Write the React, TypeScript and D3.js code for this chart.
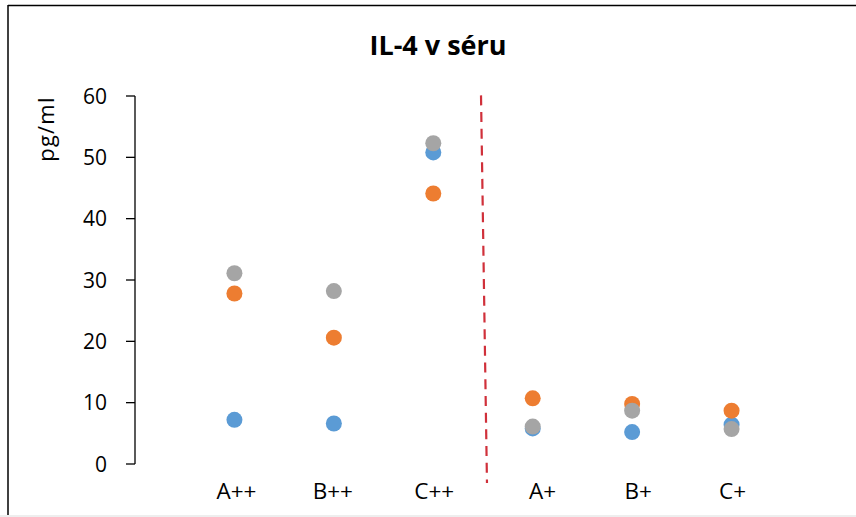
import React from "react";
import * as d3 from "d3";

const categories = ["A++", "B++", "C++", "A+", "B+", "C+"];
const catX = [1, 2, 3, 4, 5, 6];
const labelX = [1.02, 1.99, 3.01, 4.1, 5.06, 6.01];
const seriesBlue = [7.2, 6.6, 50.8, 5.8, 5.2, 6.4];
const seriesOrange = [27.8, 20.6, 44.1, 10.7, 9.8, 8.7];
const seriesGray = [31.1, 28.2, 52.3, 6.1, 8.7, 5.7];
const yTicks = [0, 10, 20, 30, 40, 50, 60];
const dividerX = [3.48, 3.54];
const dividerY = [60.1, -3.1];
const title = "IL-4 v séru";
const yLabel = "pg/ml";

const series = [
  { name: "s1", values: seriesBlue, color: "#5B9BD5" },
  { name: "s2", values: seriesOrange, color: "#ED7D31" },
  { name: "s3", values: seriesGray, color: "#A5A5A5" },
];

const W = 856;
const H = 517;
const font = "'Open Sans', 'Liberation Sans', sans-serif";

export default function App() {
  const x = d3.scaleLinear().domain([0, 7]).range([135, 831]);
  const y = d3.scaleLinear().domain([0, 60]).range([464, 96]);

  return (
    <svg
      width={W}
      height={H}
      style={{ position: "absolute", left: 0, top: 0, background: "#fff" }}
      fontFamily={font}
    >
      <rect x={0} y={0} width={W} height={H} fill="#fff" />
      {/* outer frame */}
      <line x1={8} y1={5.5} x2={W} y2={5.5} stroke="#000" strokeWidth={1.5} />
      <line x1={8} y1={5} x2={8} y2={515} stroke="#000" strokeWidth={1.5} />
      <line x1={0} y1={516} x2={W} y2={516} stroke="#ddd" strokeWidth={1} />

      <text
        x={438}
        y={55}
        textAnchor="middle"
        fontSize={27}
        fontWeight="bold"
        fill="#000"
      >
        {title}
      </text>

      {/* y axis */}
      <line x1={x(0)} y1={y(60)} x2={x(0)} y2={y(0)} stroke="#000" strokeWidth={1.3} />
      {yTicks.map((t) => (
        <g key={t}>
          <line x1={x(0) - 9} x2={x(0)} y1={y(t)} y2={y(t)} stroke="#000" strokeWidth={1.3} />
          <text
            x={107}
            y={y(t) + 7.5}
            textAnchor="end"
            fontSize={21}
            fill="#000"
          >
            {t}
          </text>
        </g>
      ))}

      <text
        transform={`translate(54,129) rotate(-90)`}
        textAnchor="middle"
        fontSize={22}
        letterSpacing={1.2}
        fill="#000"
      >
        {yLabel}
      </text>

      {/* divider */}
      <line
        x1={x(dividerX[0])}
        y1={y(dividerY[0])}
        x2={x(dividerX[1])}
        y2={y(dividerY[1])}
        stroke="#D0303A"
        strokeWidth={2.2}
        strokeDasharray="10 6.7"
      />

      {/* points */}
      {series.map((s) => (
        <g key={s.name}>
          {s.values.map((v, i) => (
            <circle key={i} cx={x(catX[i])} cy={y(v)} r={8} fill={s.color} />
          ))}
        </g>
      ))}

      {/* category labels */}
      {categories.map((c, i) => (
        <text
          key={c}
          x={x(labelX[i])}
          y={499}
          textAnchor="middle"
          fontSize={22.5}
          fill="#000"
        >
          {c}
        </text>
      ))}
    </svg>
  );
}
